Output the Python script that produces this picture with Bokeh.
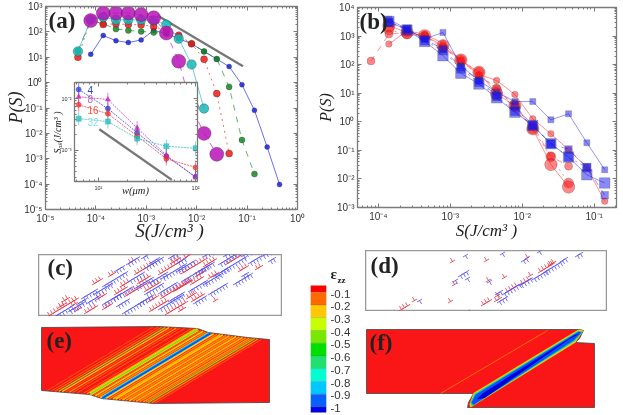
from bokeh.core.properties import value
from bokeh.embed import file_html
from bokeh.models import FixedTicker, LinearAxis, LogAxis, Pane
from bokeh.plotting import figure
from bokeh.resources import INLINE
import numpy as np

# ---- data, panel (a)
s_bins = [4.4e-5, 7.9e-5, 1.4e-4, 2.5e-4, 4.4e-4, 7.9e-4, 1.4e-3, 2.5e-3, 4.4e-3, 7.9e-3,
          1.4e-2, 2.5e-2, 4.4e-2, 7.9e-2, 1.4e-1, 2.5e-1, 4.4e-1]
a_blue = [13, 72, 45, 38, 48, 115, 85, 54, 34, 17, 8.5, 4.3, 0.83, 0.081, 0.0029, 9.7e-5]
a_green = [18, 280, 210, 129, 114, 104, 95, 85, 66, 34, 17, 8.5, 0.68, 0.0055, 2.5e-4]
a_red = [10, 300, 196, 208, 196, 190, 163, 114, 74, 34, 8.3, 0.37, 0.0016]
a_cyan = [17, 300, 380, 300, 300, 300, 280, 195, 54, 5.2, 0.095]
a_purple = [280, 550, 550, 550, 480, 360, 90, 7, 0.11, 0.01, 0.0015]
a_guide_s = [1.66e-3, 0.083]
a_guide_p = [444, 4.4]

# ---- data, inset
w_um = [6.25, 12.5, 25, 50, 100]
in_blue = [0.015, 0.0064, 0.0022, 7.7e-4, 3.1e-4]
in_purple = [0.0108, 0.0096, 0.0027, 8.1e-4, 3.0e-4]
in_red = [0.0076, 0.0051, 0.0019, 6.9e-4, 4.7e-4]
in_cyan = [0.0041, 0.0036, 0.0017, 0.0012, 0.0011]
in_guide_w = [10.2, 57]
in_guide_s = [0.00257, 2.7e-4]
in_labels = ["4", "8", "16", "32"]

# ---- data, panel (b)
b_s = [7.9e-5, 1.4e-4, 2.5e-4, 4.4e-4, 7.9e-4, 1.4e-3, 2.5e-3, 4.4e-3, 7.9e-3, 1.4e-2,
       2.5e-2, 4.4e-2, 7.9e-2, 1.4e-1]
b_red1 = [None, 525, 1530, 1170, 555, 145, 45, 28, 9, 1.27, 0.38, 0.105, 0.025, 0.00166]
b_red2 = [134, 1170, 1340, 1030, 400, 138, 41, 15.3, 3.4, 0.745, 0.062, 0.028]
b_red3 = [None, 1620, 1170, 950, 400, 145, 54, 13, 3.7, 0.57, 0.06, 0.0072]
b_red4 = [None, 2290, 1340, 1030, 460, 145, 54, 9.5, 3.7, 0.57, 0.032, 0.0052]
b_blue1 = [None, 3900, 1750, 790, 1340, 92, 28, 10.8, 5.1, 5.1, 1.17, 1.9, 0.185, 0.021]
b_blue2 = [None, 3000, 1750, 790, 350, 81, 28, 8.3, 3.7, 0.745, 0.171, 0.108, 0.026, 0.0027]
b_blue3 = [None, 3000, 1750, 690, 310, 71, 24, 7.7, 2.36, 0.745, 0.171, 0.058, 0.0245]
b_blue4 = [None, 3250, 1620, 650, 206, 50, 21, 6.9, 2.17, 0.745, 0.171, 0.058, 0.014, 0.0072]

# ---- data, colour bar
eps_tops = [-0.03, -0.09, -0.19, -0.29, -0.39, -0.49, -0.59, -0.69, -0.79, -0.89, -0.99]
eps_bottoms = [-0.09, -0.19, -0.29, -0.39, -0.49, -0.59, -0.69, -0.79, -0.89, -0.99, -1.04]
eps_colors = ["#ff0000", "#ff6a00", "#ffc800", "#c8ff00", "#78e800", "#00e000",
              "#20e070", "#00ffd0", "#00c8ff", "#0a60ff", "#0000e0"]
eps_ticks = [-0.1, -0.2, -0.3, -0.4, -0.5, -0.6, -0.7, -0.8, -0.9, -1.0]
eps_labels = ["-0.1", "-0.2", "-0.3", "-0.4", "-0.5", "-0.6", "-0.7", "-0.8", "-0.9", "-1"]

# ---- data, dislocation pile-ups: x, y on the page, number of marks
c_red = [(49, 315, 10), (64, 300, 2), (94, 283, 3), (76, 310, 2), (86, 312, 4), (104, 308, 3),
         (116, 293, 4), (126, 295, 8), (136, 273, 6), (151, 310, 6), (146, 290, 5), (139, 282, 4),
         (167, 313, 7), (162, 297, 10), (183, 272, 8), (185, 257, 6), (192, 283, 4), (193, 300, 4),
         (210, 277, 3), (227, 263, 5), (257, 268, 2), (160, 273, 8), (197, 275, 3), (188, 297, 3),
         (98, 298, 3), (72, 305, 2), (110, 275, 2), (130, 262, 2), (150, 300, 3), (175, 290, 6),
         (205, 265, 4), (172, 262, 3), (215, 300, 1), (240, 270, 3), (122, 285, 3), (60, 306, 2),
         (180, 310, 2)]
c_blue = [(56, 315, 6), (83, 297, 5), (104, 285, 8), (88, 302, 4), (104, 303, 6), (113, 298, 7),
          (124, 312, 8), (116, 270, 3), (128, 263, 4), (136, 287, 6), (143, 257, 2), (146, 267, 6),
          (151, 262, 3), (139, 303, 5), (146, 293, 6), (160, 308, 8), (160, 292, 6), (163, 277, 8),
          (183, 280, 9), (205, 283, 6), (210, 293, 6), (195, 302, 4), (223, 270, 8), (220, 263, 7),
          (243, 255, 6), (263, 255, 3), (243, 275, 2), (205, 255, 3), (170, 257, 3),
          (70, 310, 5), (78, 303, 3), (95, 293, 6), (118, 305, 4), (130, 280, 5), (150, 282, 6),
          (170, 300, 5), (178, 270, 6), (200, 270, 5), (235, 283, 6), (250, 262, 4), (225, 255, 4),
          (190, 290, 6), (215, 275, 5), (178, 262, 3), (270, 260, 2)]
d_red = [(401, 309, 3), (452, 261, 1), (454, 284, 1), (450, 301, 1), (486, 260, 1), (504, 277, 1),
         (488, 280, 1), (483, 304, 3), (496, 300, 2), (497, 295, 1), (507, 291, 4), (522, 283, 3),
         (530, 275, 1), (527, 257, 1), (540, 271, 5), (550, 264, 2), (414, 300, 1)]
d_blue = [(419, 300, 1), (465, 255, 1), (455, 280, 1), (460, 275, 3), (467, 278, 1), (489, 281, 1),
          (502, 253, 1), (523, 260, 2), (539, 251, 1), (562, 260, 2), (577, 255, 2), (467, 311, 1),
          (497, 293, 2), (499, 301, 3), (504, 293, 6), (521, 284, 4), (534, 278, 5), (545, 271, 6)]

# ---- data, strain maps on the page
e_top_x = [41, 158, 197, 208, 247, 269]
e_top_y = [327, 326, 328, 332, 337, 339]
e_bot_x = [41, 89, 101, 153, 269]
e_bot_y = [390, 394, 398, 403, 402]
e_streak_x = [80, 85, 89, 93, 97, 101, 105, 109, 114, 121, 125, 129, 129, 134, 137, 141, 145,
              148, 148, 152, 156, 160, 163, 167, 171, 175, 179, 183, 187, 191, 195, 198, 201, 205, 209]
e_streak_color = ["#ff8c00", "#ff8c00", "#ffa000", "#80e020", "#ffc800", "#ff8c00", "#ffa000",
                  "#ff8c00", "#ff8c00", "#ff8c00", "#ffa000", "#ffd800", "#70e020", "#ff8c00",
                  "#ffd000", "#ff8c00", "#e8e000", "#00c8ff", "#0a50ff", "#ffd000", "#ff9000",
                  "#ffb000", "#ffd000", "#ff9000", "#ffb000", "#ff9000", "#ffc000", "#ff9000",
                  "#ffb000", "#ff9000", "#ffa000", "#ff9000", "#80e020", "#ff9000", "#ff8c00"]
e_streak_width = [0.6, 0.8, 1, 1.2, 1.3, 0.8, 1.2, 0.8, 0.8, 0.8, 1.2, 3.4, 1.6, 0.8, 1.6, 1.5, 1.6,
                  3.6, 1.8, 1.5, 1.1, 1.8, 1.6, 1.4, 1.8, 1.4, 1.8, 1.4, 1.8, 1.4, 1.4, 1.1, 1.2, 1.1, 0.8]

f_outline_x = [366, 366, 579, 583, 579, 575, 594, 594, 467, 468, 473, 366]
f_outline_y = [393, 329, 329, 330, 338, 342, 343, 407, 407, 402, 393, 393]
f_band_colors = ["#f0d000", "#70e020", "#00d0d0", "#0a50ff", "#0000d8"]
f_band_x = [[469, 473, 578, 583, 575, 470],
            [470, 474, 578, 582, 574, 471],
            [470, 474, 578, 582, 574, 472],
            [471, 475, 578, 581, 573, 473],
            [476, 482, 574, 579, 569, 484]]
f_band_y = [[404, 392.4, 329, 330, 342, 407],
            [403, 393, 330, 331, 341, 406],
            [402.5, 393.6, 330.6, 331.5, 340.5, 405.2],
            [402, 394.2, 331.2, 332, 340, 404.6],
            [399, 393, 334.5, 333.5, 338.5, 397.5]]
f_line_x = [440, 547]
f_line_y = [393, 330]

letters = ["(a)", "(b)", "(c)", "(d)", "(e)", "(f)"]
letter_x = [48, 359, 47, 370, 46, 369]
letter_y = [20, 21, 267, 265, 340, 342]

SPINE = "#7a7a7a"


def sup(n):
    digits = str(n).replace("-", "⁻").translate(str.maketrans("0123456789", "⁰¹²³⁴⁵⁶⁷⁸⁹"))
    return "10" + digits


def place(left, top):
    return {"position": "absolute", "left": f"{left}px", "top": f"{top}px", "filter": "blur(0.5px)"}


def log_panel(left, top, width, height, borders, x_range, y_range, x_dec, y_dec, font_size):
    p = figure(width=width, height=height, x_axis_type="log", y_axis_type="log",
               x_range=x_range, y_range=y_range, output_backend="svg", toolbar_location=None,
               min_border_left=borders[0], min_border_right=borders[1],
               min_border_top=borders[2], min_border_bottom=borders[3],
               styles=place(left, top))
    p.grid.visible = False
    p.border_fill_alpha = 0
    p.outline_line_color = SPINE
    p.outline_line_width = 1.3
    for axis, dec, side in [(p.below[0], x_dec, "above"), (p.left[0], y_dec, "right")]:
        major = [10.0 ** d for d in dec]
        minor = [m * 10.0 ** d for d in range(dec[0] - 1, dec[-1] + 1) for m in range(2, 10)]
        extra = LogAxis()
        p.add_layout(extra, side)
        for ax in (axis, extra):
            ax.ticker = FixedTicker(ticks=major, minor_ticks=minor)
            ax.major_tick_in, ax.major_tick_out = 4, 0
            ax.minor_tick_in, ax.minor_tick_out = 2, 0
            ax.major_tick_line_color = SPINE
            ax.minor_tick_line_color = SPINE
            ax.axis_line_color = SPINE
        axis.major_label_overrides = {10.0 ** d: sup(d) for d in dec}
        axis.major_label_text_font = "Liberation Sans"
        axis.major_label_text_font_size = font_size
        axis.major_label_text_color = "#333333"
        axis.major_label_standoff = 3
        extra.major_label_overrides = {10.0 ** d: "" for d in dec}
        extra.major_label_text_font_size = "0px"
        extra.major_label_standoff = 0
    return p


# ---- (a)
pa = log_panel(0, 0, 305, 240, (45, 8, 6, 31), (1e-5, 1.0), (1e-5, 1e3),
               [-5, -4, -3, -2, -1, 0], [-5, -4, -3, -2, -1, 0, 1, 2, 3], "10px")
pa.line(a_guide_s, a_guide_p, line_color="#777777", line_width=2.4)
a_series = [(s_bins[1:], a_blue, "#1a22dd", 5, "solid"),
            (s_bins, a_green, "#138a20", 6, "dashed"),
            (s_bins, a_red, "#f01818", 7, "dotted"),
            (s_bins, a_cyan, "#18b8b8", 9.5, "solid"),
            (s_bins[1:], a_purple, "#b812b8", 14, "dashed")]
for xs, ys, col, size, dash in a_series:
    xs = xs[:len(ys)]
    pa.line(xs, ys, line_color=col, line_alpha=0.65, line_width=1, line_dash=dash)
    pa.scatter(xs, ys, size=size, fill_color=col, fill_alpha=0.85, line_color="#222222",
               line_alpha=0.6, line_width=0.5)

# ---- inset
pi = log_panel(48, 78, 152, 125, (26, 3, 4, 22), (10 ** 0.753, 10 ** 2.02), (10 ** -3.6, 10 ** -1.69),
               [1, 2], [-3, -2], "5.5px")
pi.line(in_guide_w, in_guide_s, line_color="#777777", line_width=2.4)
in_series = [(in_blue, "#2233dd", "circle"), (in_purple, "#c020c0", "triangle"),
             (in_red, "#f02828", "circle"), (in_cyan, "#20b8b8", "square")]
for ys, col, mark in in_series:
    ys = np.array(ys)
    pi.segment(w_um, ys / 1.35, w_um, ys * 1.35, line_color=col, line_alpha=0.55, line_width=1)
    pi.line(w_um, ys, line_color=col, line_alpha=0.8, line_width=0.9, line_dash="2 1")
    pi.scatter(w_um, ys, size=5, marker=mark, fill_color=col, fill_alpha=0.7, line_color=col, line_alpha=0.5)

# ---- (b)
pb = log_panel(315, 0, 308, 240, (42, 7, 7, 33), (10 ** -4.29, 10 ** -0.69), (1e-3, 1e4),
               [-4, -3, -2, -1], [-3, -2, -1, 0, 1, 2, 3, 4], "10px")
b_series = [(b_red1, "#ff1010", "circle", 6.5, "solid"), (b_red2, "#ff1010", "circle", 8, "dashed"),
            (b_red3, "#ff1010", "circle", 10, "dotted"), (b_red4, "#ff1010", "circle", 12.5, "solid"),
            (b_blue1, "#1515ee", "square", 6, "solid"), (b_blue2, "#1515ee", "square", 7.5, "dashed"),
            (b_blue3, "#1515ee", "square", 8.5, "dotted"), (b_blue4, "#1515ee", "square", 10.5, "solid")]
for vals, col, mark, size, dash in b_series:
    xs = [s for s, v in zip(b_s, vals) if v is not None]
    ys = [v for v in vals if v is not None]
    pb.line(xs, ys, line_color=col, line_alpha=0.45, line_width=1, line_dash=dash)
    pb.scatter(xs, ys, size=size, marker=mark, fill_color=col, fill_alpha=0.5, line_color="#444444",
               line_alpha=0.5, line_width=0.5)


# ---- (c), (d)
def dislocation_panel(left, right, top, bottom, red, blue):
    p = figure(width=right - left, height=bottom - top, x_range=(left, right), y_range=(bottom, top),
               x_axis_location=None, y_axis_location=None, output_backend="svg", toolbar_location=None,
               min_border=0, styles=place(left, top))
    p.grid.visible = False
    p.outline_line_color = "#999999"
    p.outline_line_width = 1.5
    dx, dy = np.cos(np.radians(31)), -np.sin(np.radians(31))
    for piles, col, sign in [(red, "#e83848", -1), (blue, "#5858f0", 1)]:
        xc = [x + i * 3.5 * dx for x, y, n in piles for i in range(n)]
        yc = [y + i * 3.5 * dy for x, y, n in piles for i in range(n)]
        xc, yc = np.array(xc), np.array(yc)
        p.segment(xc - 3 * dx, yc - 3 * dy, xc + 3 * dx, yc + 3 * dy,
                  line_color=col, line_width=1, line_alpha=0.85)
        p.segment(xc, yc, xc + sign * 4 * -dy, yc + sign * 4 * dx,
                  line_color=col, line_width=1, line_alpha=0.85)
    return p


pc = dislocation_panel(38, 282, 254, 316, c_red, c_blue)
pd = dislocation_panel(365, 607, 250, 311, d_red, d_blue)

# ---- colour bar
pe = figure(width=50, height=130, x_range=(0, 1), y_range=(-1.034, -0.037), x_axis_location=None,
            y_axis_location=None, output_backend="svg", toolbar_location=None,
            min_border_left=0, min_border_right=34, min_border_top=0, min_border_bottom=3,
            styles=place(310, 285))
pe.grid.visible = False
pe.outline_line_color = None
pe.border_fill_alpha = 0
pe.quad(left=0, right=1, top=eps_tops, bottom=eps_bottoms, fill_color=eps_colors,
        line_color="#555555", line_alpha=0.3, line_width=0.5)
cb_axis = LinearAxis(ticker=FixedTicker(ticks=eps_ticks),
                     major_label_overrides=dict(zip(eps_ticks, eps_labels)))
cb_axis.axis_line_color = None
cb_axis.major_tick_in, cb_axis.major_tick_out = 0, 0
cb_axis.minor_tick_in, cb_axis.minor_tick_out = 0, 0
cb_axis.major_tick_line_color = None
cb_axis.minor_tick_line_color = None
cb_axis.major_label_standoff = 4
cb_axis.major_label_text_font = "Liberation Sans"
cb_axis.major_label_text_font_size = "11.5px"
cb_axis.major_label_text_color = "#333333"
pe.add_layout(cb_axis, "right")

# ---- page-sized sheet for strain maps, axis titles and panel letters
sheet = figure(width=623, height=415, x_range=(0, 623), y_range=(415, 0), x_axis_location=None,
               y_axis_location=None, output_backend="svg", toolbar_location=None, min_border=0,
               styles=place(0, 0))
sheet.grid.visible = False
sheet.outline_line_color = None
sheet.background_fill_alpha = 0
sheet.border_fill_alpha = 0

sheet.patch(e_top_x + e_bot_x[::-1], e_top_y + e_bot_y[::-1], fill_color="#fa1616",
            line_color="#444444", line_width=0.8)
for x0, col, lw in zip(e_streak_x, e_streak_color, e_streak_width):
    xs = np.linspace(41, 269, 900)
    ys = 370 - 0.6 * (xs - x0)
    keep = (ys >= np.interp(xs, e_top_x, e_top_y) + 0.5) & (ys <= np.interp(xs, e_bot_x, e_bot_y) - 0.5)
    sheet.line(xs[keep], ys[keep], line_color=col, line_width=lw, line_cap="butt")

sheet.patch(f_outline_x, f_outline_y, fill_color="#fa1616", line_color="#444444", line_width=0.8)
sheet.line(f_line_x, f_line_y, line_color="#ff9000", line_width=0.9, line_alpha=0.8)
sheet.patches(f_band_x, f_band_y, fill_color=f_band_colors, line_color=None)

sheet.text(letter_x, letter_y, text=letters, text_font=value("Liberation Serif"),
           text_font_style="bold", text_font_size="23px", text_color="#222222",
           text_baseline="middle")
sheet.text([87, 87, 87, 87], [89, 98, 109, 121], text=in_labels, text_font=value("Liberation Sans"),
           text_font_size="10px", text_color=["#2244dd", "#bb66bb", "#ff5544", "#88ddee"],
           text_baseline="middle")
sheet.text([330], [273], text=["ε"], text_font=value("Liberation Serif"), text_font_style="bold",
           text_font_size="15px", text_color="#222222", text_baseline="middle")
sheet.text([337], [279], text=["zz"], text_font=value("Liberation Serif"), text_font_style="bold",
           text_font_size="9px", text_color="#222222", text_baseline="middle")

# axis titles: x, y, angle, font size
title_text = ["S(J/cm³ )", "P(S)", "S(J/cm³ )", "P(S)", "w(μm)", "Sₐₛ(J/cm³ )"]
title_x = [169, 15, 486, 325, 135, 57]
title_y = [230, 107, 230, 107, 190, 132]
title_angle = [0, np.pi / 2, 0, np.pi / 2, 0, np.pi / 2]
title_size = ["19px", "18px", "17px", "16px", "10.5px", "10px"]
sheet.text(title_x, title_y, text=title_text, angle=title_angle, text_font=value("Liberation Serif"),
           text_font_style="italic", text_font_size=title_size, text_color="#222222",
           text_align="center", text_baseline="middle")

page = Pane(elements=[pa, pi, pb, pc, pd, pe, sheet],
            styles={"width": "607px", "height": "399px"})

open("out.html", "w").write(file_html(page, INLINE))
